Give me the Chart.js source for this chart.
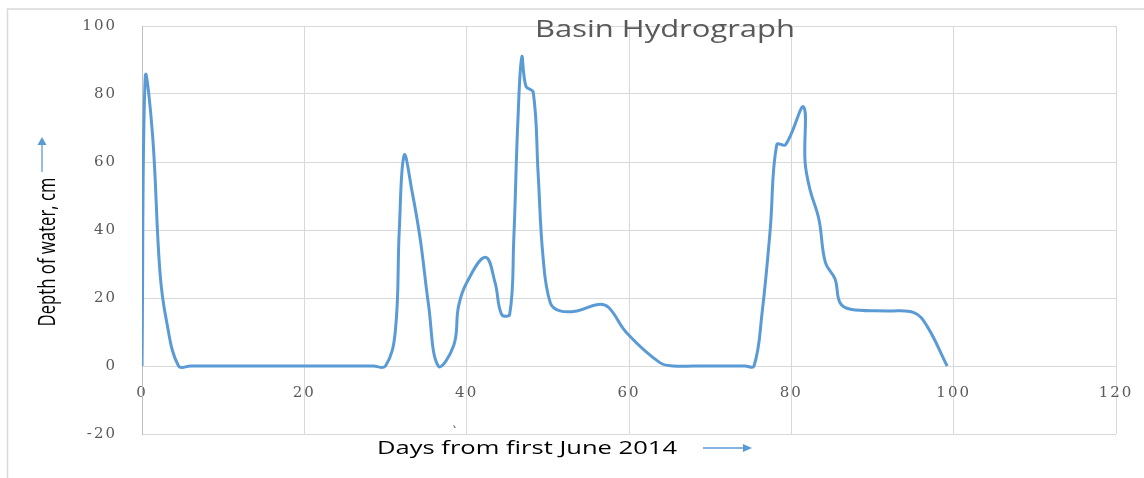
<!DOCTYPE html>
<html>
<head>
<meta charset="utf-8">
<script src="https://cdn.jsdelivr.net/npm/chart.js@4.4.1/dist/chart.umd.min.js"></script>
<style>
  html, body { margin: 0; padding: 0; background: #fff; }
  canvas { display: block; }
</style>
</head>
<body>
<canvas id="hydro" width="1144" height="478"></canvas>
<script>
// values
var days = [0, 0.4, 1.3, 2.2, 3.0, 4.5, 6, 28.5, 30, 31.2, 31.7, 32.3, 33.3, 34.3, 35.3, 36.5,
  38.4, 39.0, 40.0, 42.3, 43.5, 44.3, 45.3, 45.8, 46.3, 46.8, 47.3, 48.2, 48.8, 49.4, 50.3,
  51.5, 53.6, 56.2, 57.5, 59.7, 63.8, 65.5, 68, 74.3, 75.4, 76.4, 77.4, 78.2, 79.3, 81.5,
  81.7, 82.3, 83.4, 84.2, 85.4, 86.0, 87.3, 91.8, 95.1, 96.7, 99.2];
var depth = [0, 85, 68, 28, 13.5, 0, 0, 0, 0, 10, 40, 62, 51, 37, 18, 0,
  6, 17.6, 24.5, 32, 24.5, 15.2, 15.2, 37, 71.5, 90.9, 82.3, 80.5, 56.8, 32.3, 18.6,
  16.2, 16.2, 18.1, 17.2, 9.8, 1, 0, 0, 0, 0, 15.7, 40.2, 65.1, 65.1, 76.2,
  59.8, 51.9, 43.1, 30.4, 25.5, 18.6, 16.7, 16.2, 15.7, 11.8, 0];

var chartTitle = 'Basin Hydrograph';
var yTitle = 'Depth of water, cm';
var xTitle = 'Days from first June 2014';
var xRange = [0, 120];
var yRange = [-20, 100];
var tickStep = 20;

var points = [];
for (var i = 0; i < days.length; i++) {
  points.push({ x: days[i], y: depth[i] });
}

// draw a text fitted to a given width along the text and cap height across it
function fitText(ctx, text, cx, cy, width, capH, family, color, rotate) {
  ctx.save();
  ctx.font = '40px ' + family;
  var w = ctx.measureText(text).width;
  var cap = ctx.measureText('H').actualBoundingBoxAscent;
  ctx.translate(cx, cy);
  if (rotate) ctx.rotate(-Math.PI / 2);
  ctx.scale(width / w, capH / cap);
  ctx.fillStyle = color;
  ctx.textAlign = 'center';
  ctx.textBaseline = 'alphabetic';
  ctx.fillText(text, 0, cap / 2);
  ctx.restore();
}

var decor = {
  id: 'decor',
  beforeDraw: function(chart) {
    var ctx = chart.ctx;
    ctx.save();
    ctx.fillStyle = '#fff';
    ctx.fillRect(0, 0, chart.width, chart.height);
    ctx.strokeStyle = '#d9d9d9';
    ctx.lineWidth = 1.5;
    ctx.beginPath();
    ctx.moveTo(7.5, 478);
    ctx.lineTo(7.5, 9);
    ctx.lineTo(1144, 9);
    ctx.stroke();
    ctx.restore();
    ctx.letterSpacing = '2px';
  },
  beforeDatasetsDraw: function(chart) {
    chart.ctx.letterSpacing = '0px';
  },
  afterDraw: function(chart) {
    var ctx = chart.ctx;
    fitText(ctx, chartTitle, 665, 28.5, 260, 17, '"Open Sans"', '#595959', false);
    fitText(ctx, yTitle, 46, 252, 149, 17, '"Open Sans"', '#000', true);
    fitText(ctx, xTitle, 527, 448, 300, 12.5, '"Open Sans"', '#000', false);

    ctx.save();
    ctx.strokeStyle = '#5b9bd5';
    ctx.fillStyle = '#5b9bd5';
    ctx.lineWidth = 1.3;
    // arrow next to the y title
    ctx.beginPath();
    ctx.moveTo(42, 172);
    ctx.lineTo(42, 145);
    ctx.stroke();
    ctx.beginPath();
    ctx.moveTo(42, 137);
    ctx.lineTo(46.5, 145);
    ctx.lineTo(37.5, 145);
    ctx.closePath();
    ctx.fill();
    // arrow next to the x title
    ctx.beginPath();
    ctx.moveTo(703, 448);
    ctx.lineTo(743, 448);
    ctx.stroke();
    ctx.beginPath();
    ctx.moveTo(752, 448);
    ctx.lineTo(743, 444);
    ctx.lineTo(743, 452);
    ctx.closePath();
    ctx.fill();
    // stray mark
    ctx.fillStyle = '#444';
    ctx.font = '12px "DejaVu Sans"';
    ctx.textAlign = 'center';
    ctx.textBaseline = 'middle';
    ctx.fillText('`', 455, 433);
    ctx.restore();
  }
};

var tickFont = { family: '"DejaVu Serif"', size: 15 };

new Chart(document.getElementById('hydro'), {
  type: 'scatter',
  data: {
    datasets: [{
      data: points,
      showLine: true,
      borderColor: '#5b9bd5',
      borderWidth: 3,
      pointRadius: 0,
      tension: 0.4,
      fill: false
    }]
  },
  options: {
    responsive: false,
    animation: false,
    devicePixelRatio: 1,
    layout: { padding: { top: 26, right: 28, bottom: 44, left: 0 } },
    plugins: { legend: { display: false }, tooltip: { enabled: false } },
    scales: {
      x: {
        type: 'linear',
        position: { y: 0 },
        min: xRange[0], max: xRange[1],
        ticks: { stepSize: tickStep, padding: 18, color: '#595959', font: tickFont },
        grid: { color: '#d9d9d9', drawTicks: false },
        border: { color: '#d9d9d9' },
        afterFit: function(s) { s.height = 0; s.paddingLeft = 0; s.paddingRight = 0; }
      },
      y: {
        min: yRange[0], max: yRange[1],
        ticks: { stepSize: tickStep, padding: 25, color: '#595959', font: tickFont },
        grid: { color: '#d9d9d9', drawTicks: false },
        border: { color: '#bfbfbf' },
        afterFit: function(s) { s.width = 142; s.paddingTop = 0; s.paddingBottom = 0; }
      }
    }
  },
  plugins: [decor]
});
</script>
</body>
</html>
